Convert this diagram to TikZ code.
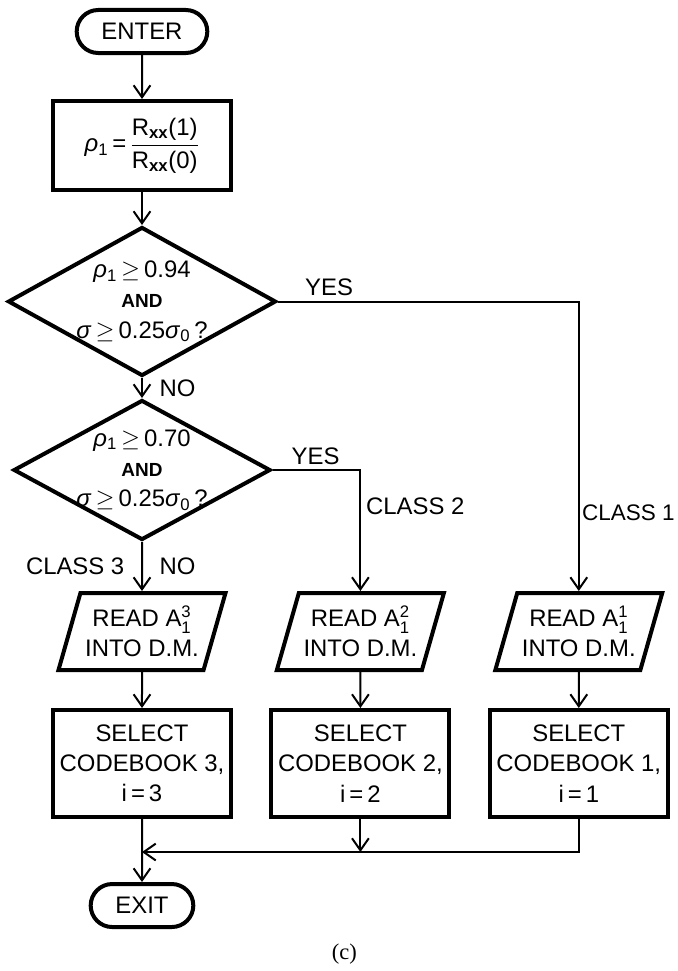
\documentclass[tikz,border=0pt]{standalone}
\usepackage{amsmath}
\usepackage{fontspec}
\setmainfont{Liberation Serif}
\setsansfont{Liberation Sans}
\usepackage{tikz}
\usetikzlibrary{arrows.meta,positioning,shapes.geometric,shapes.misc}

\begin{document}
\begin{tikzpicture}[node distance=9mm and 9.1mm,
 font=\sffamily\fontsize{17}{21.5}\selectfont,
 box/.style={draw,line width=1mm,align=center,minimum width=44.5mm,minimum height=26.75mm},
 term/.style={draw,line width=1mm,rounded rectangle,minimum height=10.75mm},
 test/.style={draw,line width=1mm,diamond,align=center,aspect=1.8,inner sep=-1.5mm},
 io/.style={draw,line width=1mm,trapezium,trapezium left angle=70,trapezium right angle=110,
   trapezium stretches=true,align=center,minimum width=40mm,minimum height=19.25mm},
 line width=0.5mm,>={Straight Barb[length=3mm,width=4.2mm]}]
\useasboundingbox (-35.5mm,7.875mm) rectangle (134mm,-234.875mm);
\node[term,minimum width=35mm] (enter) at (0,0) {ENTER};
\node[box,below=11mm of enter,minimum width=44.25mm,minimum height=22.25mm] (ratio)
  {\textit{ρ}\textsubscript{1}\,=\,$\dfrac{\text{R\textsubscript{\textbf{xx}}(1)}}{\text{R\textsubscript{\textbf{xx}}(0)}}$};
\node[test,below=8.25mm of ratio,minimum width=67mm,minimum height=37.25mm] (test1)
  {\textit{ρ}\textsubscript{1}$\,\geq\,$0.94\\{\fontsize{13.5}{21.5}\selectfont\bfseries AND}\\\textit{σ}$\,\geq\,$0.25\textit{σ}\textsubscript{0}\,?};
\node[test,below=5mm of test1,minimum width=64.25mm,minimum height=35mm] (test2)
  {\textit{ρ}\textsubscript{1}$\,\geq\,$0.70\\{\fontsize{13.5}{21.5}\selectfont\bfseries AND}\\\textit{σ}$\,\geq\,$0.25\textit{σ}\textsubscript{0}\,?};
\node[io,below=12.25mm of test2] (read3) {READ A$^{\text{3}}_{\text{1}}$\\INTO D.M.};
\node[box,below=of read3] (sel3) {SELECT\\CODEBOOK 3,\\i\,=\,3};
\node[box,right=of sel3] (sel2) {SELECT\\CODEBOOK 2,\\i\,=\,2};
\node[box,right=of sel2] (sel1) {SELECT\\CODEBOOK 1,\\i\,=\,1};
\node[io,above=of sel2] (read2) {READ A$^{\text{2}}_{\text{1}}$\\INTO D.M.};
\node[io,above=of sel1] (read1) {READ A$^{\text{1}}_{\text{1}}$\\INTO D.M.};
\node[term,below=15.75mm of sel3,minimum width=28mm] (exit) {EXIT};
\coordinate[below=8.25mm of sel1.south] (join);
\node[font=\rmfamily\fontsize{16}{18}\selectfont] (caption) at ([xshift=-4mm,yshift=-12.1mm]exit-|sel2) {(c)};
\draw[->] (enter)--(ratio);
\draw[->] (ratio)--(test1);
\draw[->] (test1)--node[right=3mm]{NO}(test2);
\draw[->] (test2)--node[left=3mm]{CLASS 3}node[right=3mm]{NO}(read3);
\draw[->] (test1.east)--node[above,pos=0.17]{YES}(test1.east-|read1.north)--node[right,inner sep=0.6mm,pos=0.73,font=\sffamily\fontsize{16}{20}\selectfont]{CLASS 1}(read1.north);
\draw[->] (test2.east)--node[above,pos=0.49]{YES}(test2.east-|read2.north)--node[right,pos=0.3]{CLASS 2}(read2.north);
\draw[->] (read3)--(sel3); \draw[->] (read2)--(sel2); \draw[->] (read1)--(sel1);
\draw[->] (sel3)--(exit);
\draw[->] (sel1.south)--(join)--(join-|sel3.south);
\draw[->] (sel2.south)--(sel2.south|-join);
\end{tikzpicture}
\end{document}
